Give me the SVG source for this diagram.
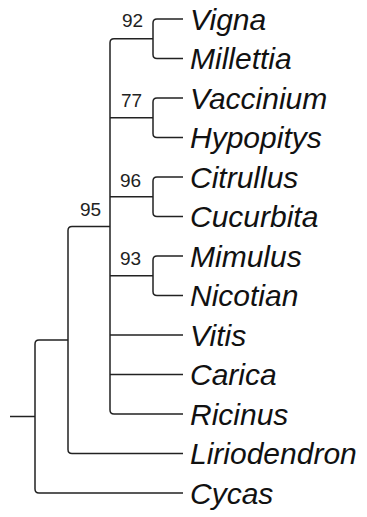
<svg xmlns="http://www.w3.org/2000/svg" width="367" height="517" viewBox="0 0 367 517">
<style>
.e{fill:none;stroke:#222;stroke-width:1.5;stroke-linejoin:round}
.t{font-family:"Liberation Sans",Arial,sans-serif;font-style:italic;font-size:30px;fill:#111}
.b{font-family:"Liberation Sans",Arial,sans-serif;font-size:19px;fill:#222}
</style>
<rect width="367" height="517" fill="#fff"/>
<g id="connectors">
<path class="e" d="M10,416.5H35"/>
<path class="e" d="M68,340H39Q35,340 35,344V489Q35,493 39,493H183"/>
<path class="e" d="M110,226.4H72Q68,226.4 68,230.4V449.5Q68,453.5 72,453.5H183"/>
<path class="e" d="M153,38.75H114Q110,38.75 110,42.75V410Q110,414 114,414H183"/>
<path class="e" d="M110,117.75H153M110,196.75H153M110,275.75H153M110,335H183M110,374.5H183"/>
<path class="e" d="M183,19H157Q153,19 153,23V54.5Q153,58.5 157,58.5H183"/>
<path class="e" d="M183,98H157Q153,98 153,102V133.5Q153,137.5 157,137.5H183"/>
<path class="e" d="M183,177H157Q153,177 153,181V212.5Q153,216.5 157,216.5H183"/>
<path class="e" d="M183,256H157Q153,256 153,260V291.5Q153,295.5 157,295.5H183"/>
</g>
<g id="support">
<text class="b" x="122" y="27">92</text>
<text class="b" x="121" y="107">77</text>
<text class="b" x="120" y="187">96</text>
<text class="b" x="80" y="216">95</text>
<text class="b" x="120" y="265">93</text>
</g>
<g id="leaf-vigna"><text class="t" x="190" y="29.5">Vigna</text></g>
<g id="leaf-millettia"><text class="t" x="190" y="69">Millettia</text></g>
<g id="leaf-vaccinium"><text class="t" x="190" y="108.5">Vaccinium</text></g>
<g id="leaf-hypopitys"><text class="t" x="190" y="148">Hypopitys</text></g>
<g id="leaf-citrullus"><text class="t" x="190" y="187.5">Citrullus</text></g>
<g id="leaf-cucurbita"><text class="t" x="190" y="227">Cucurbita</text></g>
<g id="leaf-mimulus"><text class="t" x="190" y="266.5">Mimulus</text></g>
<g id="leaf-nicotian"><text class="t" x="190" y="306">Nicotian</text></g>
<g id="leaf-vitis"><text class="t" x="190" y="345.5">Vitis</text></g>
<g id="leaf-carica"><text class="t" x="190" y="385">Carica</text></g>
<g id="leaf-ricinus"><text class="t" x="190" y="424.5">Ricinus</text></g>
<g id="leaf-liriodendron"><text class="t" x="190" y="464">Liriodendron</text></g>
<g id="leaf-cycas"><text class="t" x="190" y="503.5">Cycas</text></g>
</svg>
